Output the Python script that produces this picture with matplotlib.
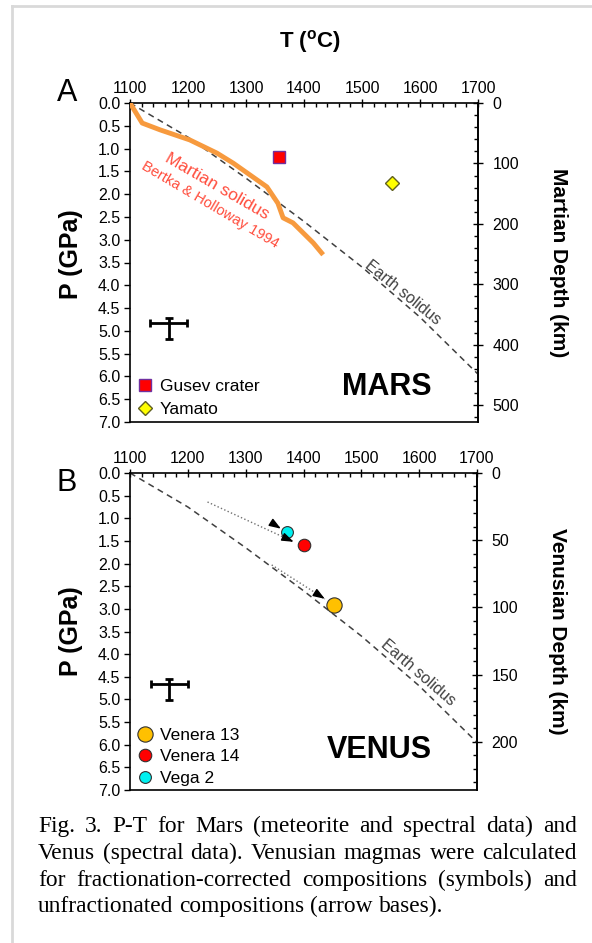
import numpy as np
import matplotlib
matplotlib.use('Agg')
import matplotlib.pyplot as plt
from matplotlib.lines import Line2D
from matplotlib.ticker import FormatStrFormatter, MultipleLocator

plt.rcParams['font.family'] = ['Liberation Sans', 'DejaVu Sans']
plt.rcParams['mathtext.fontset'] = 'custom'
plt.rcParams['mathtext.rm'] = 'Liberation Sans'
plt.rcParams['mathtext.bf'] = 'Liberation Sans:bold'

# Earth solidus (same curve on both panels)
earth_T = [1100, 1200, 1300, 1400, 1500, 1600, 1700]
earth_P = [0.0, 0.75, 1.65, 2.6, 3.6, 4.7, 5.95]

# Martian solidus, Bertka & Holloway 1994
mars_sol_T = [1100, 1121, 1152, 1203, 1250, 1278, 1336, 1355, 1364, 1381, 1416, 1433]
mars_sol_P = [0.0, 0.44, 0.59, 0.81, 1.10, 1.32, 1.84, 2.20, 2.52, 2.63, 3.07, 3.33]

# Mars samples
gusev_T, gusev_P = [1357], [1.18]
yamato_T, yamato_P = [1552], [1.75]

# Venus samples (fractionation-corrected)
venus_names = ['Venera 13', 'Venera 14', 'Vega 2']
venus_T = [1453, 1400, 1372]
venus_P = [2.91, 1.60, 1.30]
venus_colors = ['#ffc000', '#ff0000', '#00f0f0']
venus_sizes = [11, 9, 8.5]

# unfractionated compositions (arrow bases) -> arrow tips
arrow_base_T = [1345, 1234, 1345]
arrow_base_P = [2.03, 0.64, 1.10]
arrow_tip_T = [1437, 1383, 1361]
arrow_tip_P = [2.78, 1.52, 1.23]

# typical uncertainty cross
err_T = 32
err_P = [[0.12], [0.35]]
mars_err_T, mars_err_P = [1167], [4.83]
venus_err_T, venus_err_P = [1168], [4.66]

# depth conversion
mars_km_per_gpa = 75.4
venus_km_per_gpa = 33.7

caption_lines = [
    "Fig. 3.  P-T for Mars (meteorite and spectral data) and",
    "Venus (spectral data). Venusian magmas were calculated",
    "for fractionation-corrected compositions (symbols) and",
    "unfractionated compositions (arrow bases).",
]

W, H = 592, 943
fig = plt.figure(figsize=(W / 100, H / 100), dpi=100)


def px_axes(left, top, right, bottom):
    return fig.add_axes([left / W, 1 - bottom / H, (right - left) / W, (bottom - top) / H])


def setup(ax, km_per_gpa, depth_major, depth_minor, depth_label, label_y=0.5):
    ax.set_xlim(1100, 1700)
    ax.set_ylim(7.0, 0.0)
    ax.xaxis.tick_top()
    ax.set_xticks(np.arange(1100, 1701, 100))
    ax.xaxis.set_minor_locator(MultipleLocator(20))
    ax.set_yticks(np.arange(0, 7.01, 0.5))
    ax.yaxis.set_major_formatter(FormatStrFormatter('%.1f'))
    ax.tick_params(axis='x', which='major', direction='inout', length=6, width=1, labelsize=11.5, pad=2)
    ax.tick_params(axis='x', which='minor', direction='in', length=3, width=1)
    ax.tick_params(axis='y', which='major', direction='out', length=4, width=1, labelsize=11.5, pad=3)
    for s in ax.spines.values():
        s.set_linewidth(1.2)
    ax.set_ylabel('P (GPa)', fontsize=18, fontweight='bold')
    ax.yaxis.set_label_coords(-0.135, label_y)

    k = km_per_gpa
    sec = ax.secondary_yaxis('right', functions=(lambda p: p * k, lambda d: d / k))
    sec.set_yticks(depth_major)
    sec.yaxis.set_minor_locator(MultipleLocator(depth_minor))
    sec.tick_params(which='major', direction='inout', length=7, width=1, labelsize=11.5, pad=7)
    sec.tick_params(which='minor', direction='in', length=3, width=1)
    sec.spines['right'].set_linewidth(1.2)
    sec.set_ylabel(depth_label, fontsize=15, fontweight='bold', rotation=270, labelpad=35)
    return sec


def arrows(ax):
    for bT, bP, tT, tP in zip(arrow_base_T, arrow_base_P, arrow_tip_T, arrow_tip_P):
        ax.plot([bT, tT], [bP, tP], ls=':', color='#707070', lw=1.0, zorder=5)
        pb = ax.transData.transform((bT, bP))
        pt = ax.transData.transform((tT, tP))
        u = (pt - pb) / np.hypot(*(pt - pb))
        pre = ax.transData.inverted().transform(pt - u * 10)
        ax.annotate('', xy=(tT, tP), xytext=tuple(pre),
                    arrowprops=dict(arrowstyle='-|>,head_length=0.7,head_width=0.25', color='black',
                                    lw=1, mutation_scale=10, shrinkA=0, shrinkB=0), zorder=6)


# ---------------- Panel A: Mars ----------------
axA = px_axes(130, 103, 478, 422)
setup(axA, mars_km_per_gpa, np.arange(0, 501, 100), 20, 'Martian Depth (km)', label_y=0.525)
axA.plot(earth_T, earth_P, ls=(0, (4, 3)), color='#404040', lw=1.1, zorder=2)
axA.plot(mars_sol_T, mars_sol_P, color='#f79a3e', lw=3.5, solid_capstyle='butt', zorder=3)
axA.plot(gusev_T, gusev_P, 's', ms=9, mfc='#ff0000', mec='#7030a0', mew=1, ls='none', zorder=4)
axA.plot(yamato_T, yamato_P, 'D', ms=7.5, mfc='#ffff00', mec='#606020', mew=1, ls='none', zorder=4)
axA.errorbar(mars_err_T, mars_err_P, xerr=err_T, yerr=err_P, fmt='none', ecolor='black',
             elinewidth=2, capsize=3, capthick=2)
axA.text(1250, 1.84, 'Martian solidus', rotation=-30, rotation_mode='anchor', ha='center', va='center',
         fontsize=12.5, color='#ff4d3d')
axA.text(1238, 2.24, 'Bertka & Holloway 1994', rotation=-30.6, rotation_mode='anchor', ha='center',
         va='center', fontsize=10.5, color='#ff4d3d')
axA.text(1571, 4.17, 'Earth solidus', rotation=-39, rotation_mode='anchor', ha='center', va='center',
         fontsize=11.5, color='#404040')
axA.text(1543, 6.23, 'MARS', fontsize=22, fontweight='bold', ha='center', va='center')
handles = [Line2D([], [], marker='s', ms=9, mfc='#ff0000', mec='#7030a0', ls='none'),
           Line2D([], [], marker='D', ms=7.5, mfc='#ffff00', mec='#606020', ls='none')]
axA.legend(handles, ['Gusev crater', 'Yamato'], loc='lower left', bbox_to_anchor=(0.0, -0.005),
           frameon=False, fontsize=12.5, handlelength=0.9, handletextpad=0.4, labelspacing=0.45,
           borderaxespad=0.2, borderpad=0.2)

# ---------------- Panel B: Venus ----------------
axB = px_axes(130, 473, 477, 790)
setup(axB, venus_km_per_gpa, np.arange(0, 201, 50), 10, 'Venusian Depth (km)')
axB.plot(earth_T, earth_P, ls=(0, (4, 3)), color='#404040', lw=1.1, zorder=2)
for name, t, p, c, s in zip(venus_names, venus_T, venus_P, venus_colors, venus_sizes):
    axB.plot([t], [p], 'o', ms=s, mfc=c, mec='#303030', mew=0.8, ls='none', zorder=4, label=name)
arrows(axB)
axB.errorbar(venus_err_T, venus_err_P, xerr=err_T, yerr=err_P, fmt='none', ecolor='black',
             elinewidth=2, capsize=3, capthick=2)
axB.text(1599, 4.4, 'Earth solidus', rotation=-40.6, rotation_mode='anchor', ha='center', va='center',
         fontsize=11.5, color='#404040')
axB.text(1532, 6.11, 'VENUS', fontsize=22, fontweight='bold', ha='center', va='center')
axB.legend(loc='lower left', bbox_to_anchor=(0.0, -0.008), frameon=False, fontsize=12.5,
           handlelength=0.9, handletextpad=0.4, labelspacing=0.36, borderaxespad=0.2, borderpad=0.2)

# ---------------- figure texts ----------------
fig.text(310 / W, 1 - 42 / H, r'T ($\mathbf{^{o}}$C)', fontsize=16, fontweight='bold', ha='center', va='center')
fig.text(67 / W, 1 - 93 / H, 'A', fontsize=22, ha='center', va='center')
fig.text(67 / W, 1 - 483 / H, 'B', fontsize=22, ha='center', va='center')

# page border
fig.add_artist(Line2D([12 / W, 12 / W], [0, 1 - 6 / H], transform=fig.transFigure, color='#d9d9d9', lw=2))
fig.add_artist(Line2D([12 / W, 1], [1 - 6 / H, 1 - 6 / H], transform=fig.transFigure, color='#d9d9d9', lw=2))

# justified caption
renderer = fig.canvas.get_renderer()
cap_left, cap_right = 38, 577
baselines = [832, 859, 886, 912]
cap_kw = dict(fontsize=16.8, family='Liberation Serif', va='baseline', ha='left')
probe = fig.text(0, 0, 'a a', **cap_kw)
probe2 = fig.text(0, 0, 'aa', **cap_kw)
space_w = probe.get_window_extent(renderer).width - probe2.get_window_extent(renderer).width
probe.remove()
probe2.remove()
for i, line in enumerate(caption_lines):
    words = line.split()
    texts = [fig.text(0, 1 - baselines[i] / H, w, **cap_kw) for w in words]
    widths = [t.get_window_extent(renderer).width for t in texts]
    if i < len(caption_lines) - 1:
        gap = (cap_right - cap_left - sum(widths)) / (len(words) - 1)
    else:
        gap = space_w
    x = cap_left
    for t, w in zip(texts, widths):
        t.set_x(x / W)
        x += w + gap

fig.savefig('out.png', dpi=100)
